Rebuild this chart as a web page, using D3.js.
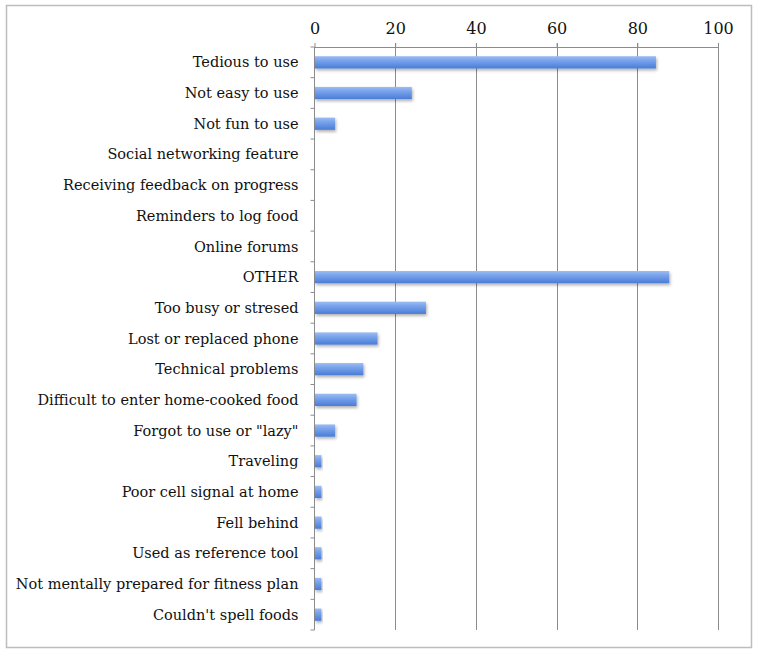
<!DOCTYPE html>
<html><head><meta charset="utf-8">
<script src="https://cdn.jsdelivr.net/npm/d3@7"></script>
<style>body{margin:0;background:#fff;} svg{display:block;}</style>
</head><body>
<svg id="c" width="758" height="655"></svg>
<script>
const categories = ["Tedious to use","Not easy to use","Not fun to use","Social networking feature","Receiving feedback on progress","Reminders to log food","Online forums","OTHER","Too busy or stresed","Lost or replaced phone","Technical problems","Difficult to enter home-cooked food","Forgot to use or \"lazy\"","Traveling","Poor cell signal at home","Fell behind","Used as reference tool","Not mentally prepared for fitness plan","Couldn't spell foods"];
const values = [84.5,24,5,0,0,0,0,87.8,27.5,15.5,12,10.3,5,1.6,1.6,1.6,1.6,1.6,1.6];
const xTicks = [0,20,40,60,80,100];

const svg = d3.select("#c");
const m = {left:314.5, right:718, top:47, bottom:630};
const x = d3.scaleLinear().domain([0,100]).range([m.left,m.right]);
const y = d3.scaleBand().domain(categories).range([m.top,m.bottom]).paddingInner(0.6).paddingOuter(0.3);

// outer frame
svg.append("rect").attr("x",6.5).attr("y",5.5).attr("width",745).attr("height",642)
  .attr("fill","#fff").attr("stroke","#bdbdbd").attr("stroke-width",1.5);

const defs = svg.append("defs");
const g = defs.append("linearGradient").attr("id","bg").attr("x1",0).attr("y1",0).attr("x2",0).attr("y2",1);
g.append("stop").attr("offset","0%").attr("stop-color","#9dbdf2");
g.append("stop").attr("offset","35%").attr("stop-color","#79a3ec");
g.append("stop").attr("offset","100%").attr("stop-color","#4a7cd6");
const f = defs.append("filter").attr("id","sh").attr("x","-10%").attr("y","-30%").attr("width","130%").attr("height","190%");
f.append("feDropShadow").attr("dx",1).attr("dy",2).attr("stdDeviation",1.5).attr("flood-color","#000").attr("flood-opacity",0.3);

// gridlines
svg.append("g").selectAll("line").data(xTicks.slice(1)).join("line")
  .attr("x1",d=>Math.round(x(d))+0.5).attr("x2",d=>Math.round(x(d))+0.5)
  .attr("y1",m.top-4).attr("y2",m.bottom).attr("stroke","#8c8c8c").attr("stroke-width",1);

// top axis
const ax = d3.axisTop(x).tickValues(xTicks).tickSize(4).tickPadding(9).tickSizeOuter(0);
const axg = svg.append("g").attr("transform",`translate(0,${m.top})`).call(ax);
axg.select(".domain").attr("stroke","#8c8c8c");
axg.selectAll(".tick line").attr("stroke","#8c8c8c");
axg.selectAll(".tick text").attr("font-family","'DejaVu Serif', serif").attr("font-size",16).attr("fill","#111");

// left axis with ticks at band boundaries
svg.append("line").attr("x1",m.left).attr("x2",m.left).attr("y1",m.top).attr("y2",m.bottom).attr("stroke","#8c8c8c");
const bounds = d3.range(categories.length+1).map(i=>m.top+i*(m.bottom-m.top)/categories.length);
svg.append("g").selectAll("line").data(bounds).join("line")
  .attr("x1",m.left-4).attr("x2",m.left).attr("y1",d=>d).attr("y2",d=>d).attr("stroke","#8c8c8c");

// bars
const barData = values.map((v,i)=>({c:categories[i],v})).filter(d=>d.v>0);
svg.append("g").selectAll("rect").data(barData).join("rect")
  .attr("x",x(0)+0.5).attr("y",d=>y(d.c)).attr("width",d=>x(d.v)-x(0)).attr("height",y.bandwidth())
  .attr("fill","url(#bg)").attr("filter","url(#sh)");

// labels
svg.append("g").selectAll("text").data(categories).join("text")
  .attr("x",m.left-16).attr("y",d=>y(d)+y.bandwidth()/2).attr("dy","0.35em")
  .attr("text-anchor","end").attr("font-family","'DejaVu Serif', serif").attr("font-size",14.5)
  .attr("fill","#111").text(d=>d);
</script>
</body></html>
